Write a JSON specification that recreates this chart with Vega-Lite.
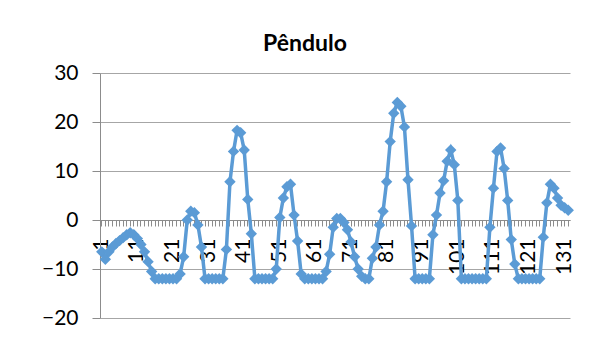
{
  "$schema": "https://vega.github.io/schema/vega-lite/v6.json",
  "width": 470,
  "height": 245,
  "autosize": {"type": "none"},
  "padding": {"left": 100, "top": 73, "right": 34, "bottom": 29},
  "background": "white",
  "config": {"view": {"stroke": null}},
  "title": {
    "text": "Pêndulo",
    "font": "Lato",
    "fontSize": 23,
    "fontWeight": "bold",
    "color": "black",
    "frame": "group",
    "anchor": "middle",
    "dx": -30,
    "offset": 6
  },
  "data": {
    "values": [
      {"n": 1, "v": -6.5}, {"n": 2, "v": -8}, {"n": 3, "v": -6.5}, {"n": 4, "v": -5.5},
      {"n": 5, "v": -4.8}, {"n": 6, "v": -4.2}, {"n": 7, "v": -3.6}, {"n": 8, "v": -3},
      {"n": 9, "v": -2.6}, {"n": 10, "v": -3}, {"n": 11, "v": -3.8}, {"n": 12, "v": -5},
      {"n": 13, "v": -6.5}, {"n": 14, "v": -8.5}, {"n": 15, "v": -10.5}, {"n": 16, "v": -12},
      {"n": 17, "v": -12}, {"n": 18, "v": -12}, {"n": 19, "v": -12}, {"n": 20, "v": -12},
      {"n": 21, "v": -12}, {"n": 22, "v": -12}, {"n": 23, "v": -11}, {"n": 24, "v": -7.5},
      {"n": 25, "v": 0}, {"n": 26, "v": 1.8}, {"n": 27, "v": 1.5}, {"n": 28, "v": -1},
      {"n": 29, "v": -5.5}, {"n": 30, "v": -12}, {"n": 31, "v": -12}, {"n": 32, "v": -12},
      {"n": 33, "v": -12}, {"n": 34, "v": -12}, {"n": 35, "v": -12}, {"n": 36, "v": -6},
      {"n": 37, "v": 7.8}, {"n": 38, "v": 14}, {"n": 39, "v": 18.3}, {"n": 40, "v": 17.8},
      {"n": 41, "v": 14.3}, {"n": 42, "v": 4.2}, {"n": 43, "v": -2.8}, {"n": 44, "v": -12},
      {"n": 45, "v": -12}, {"n": 46, "v": -12}, {"n": 47, "v": -12}, {"n": 48, "v": -12},
      {"n": 49, "v": -12}, {"n": 50, "v": -10}, {"n": 51, "v": 0.5}, {"n": 52, "v": 4.5},
      {"n": 53, "v": 6.8}, {"n": 54, "v": 7.3}, {"n": 55, "v": 1}, {"n": 56, "v": -4.3},
      {"n": 57, "v": -11}, {"n": 58, "v": -12}, {"n": 59, "v": -12}, {"n": 60, "v": -12},
      {"n": 61, "v": -12}, {"n": 62, "v": -12}, {"n": 63, "v": -12}, {"n": 64, "v": -10.5},
      {"n": 65, "v": -7}, {"n": 66, "v": -1.5}, {"n": 67, "v": 0.3}, {"n": 68, "v": 0.3},
      {"n": 69, "v": -0.5}, {"n": 70, "v": -2}, {"n": 71, "v": -4.5}, {"n": 72, "v": -7.5},
      {"n": 73, "v": -10}, {"n": 74, "v": -11.5}, {"n": 75, "v": -12}, {"n": 76, "v": -12},
      {"n": 77, "v": -7.8}, {"n": 78, "v": -5.5}, {"n": 79, "v": -1}, {"n": 80, "v": 1.8},
      {"n": 81, "v": 7.8}, {"n": 82, "v": 16}, {"n": 83, "v": 21.8}, {"n": 84, "v": 24},
      {"n": 85, "v": 23.2}, {"n": 86, "v": 19}, {"n": 87, "v": 8.2}, {"n": 88, "v": -1.2},
      {"n": 89, "v": -12}, {"n": 90, "v": -12}, {"n": 91, "v": -12}, {"n": 92, "v": -12},
      {"n": 93, "v": -12}, {"n": 94, "v": -3}, {"n": 95, "v": 1}, {"n": 96, "v": 5.5},
      {"n": 97, "v": 8}, {"n": 98, "v": 12}, {"n": 99, "v": 14.3}, {"n": 100, "v": 11.3},
      {"n": 101, "v": 4}, {"n": 102, "v": -12}, {"n": 103, "v": -12}, {"n": 104, "v": -12},
      {"n": 105, "v": -12}, {"n": 106, "v": -12}, {"n": 107, "v": -12}, {"n": 108, "v": -12},
      {"n": 109, "v": -12}, {"n": 110, "v": -1.5}, {"n": 111, "v": 6.5}, {"n": 112, "v": 14},
      {"n": 113, "v": 14.7}, {"n": 114, "v": 10.5}, {"n": 115, "v": 4}, {"n": 116, "v": -4},
      {"n": 117, "v": -9}, {"n": 118, "v": -12}, {"n": 119, "v": -12}, {"n": 120, "v": -12},
      {"n": 121, "v": -12}, {"n": 122, "v": -12}, {"n": 123, "v": -12}, {"n": 124, "v": -12},
      {"n": 125, "v": -3.5}, {"n": 126, "v": 3.5}, {"n": 127, "v": 7.3}, {"n": 128, "v": 6.5},
      {"n": 129, "v": 4.5}, {"n": 130, "v": 3}, {"n": 131, "v": 2.5}, {"n": 132, "v": 2}
    ]
  },
  "encoding": {
    "x": {
      "field": "n",
      "type": "ordinal",
      "sort": null,
      "scale": {"type": "band", "paddingInner": 0, "paddingOuter": 0},
      "axis": {
        "title": null,
        "offset": -98,
        "grid": false,
        "domainColor": "#8c8c8c",
        "tickColor": "#8c8c8c",
        "tickSize": 6,
        "labelAngle": -90,
        "labelFont": "Lato",
        "labelFontSize": 21,
        "labelColor": "black",
        "labelPadding": 12,
        "labelOverlap": false,
        "labelExpr": "(datum.value - 1) % 10 === 0 ? datum.label : ''"
      }
    },
    "y": {
      "field": "v",
      "type": "quantitative",
      "scale": {"domain": [-20, 30], "nice": false, "zero": false},
      "axis": {
        "title": null,
        "values": [-20, -10, 0, 10, 20, 30],
        "grid": true,
        "gridColor": "#a6a6a6",
        "domainColor": "#8c8c8c",
        "tickColor": "#8c8c8c",
        "tickSize": 8,
        "labelFont": "Lato",
        "labelFontSize": 21,
        "labelColor": "black",
        "labelPadding": 14
      }
    }
  },
  "layer": [
    {"mark": {"type": "line", "color": "#5b9bd5", "strokeWidth": 3.5}},
    {"mark": {"type": "point", "shape": "diamond", "filled": true, "opacity": 1, "color": "#5b9bd5", "size": 130}}
  ]
}
